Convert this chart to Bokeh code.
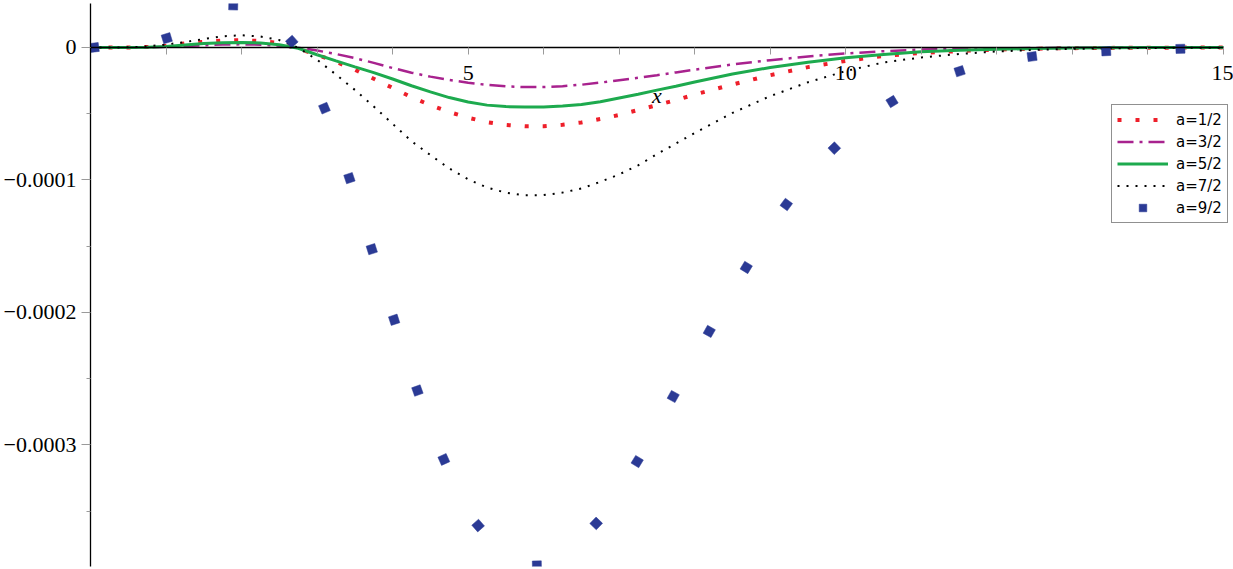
import math
from bokeh.plotting import figure
from bokeh.models import Range1d, FixedTicker, Legend, LegendItem
from bokeh.embed import file_html
from bokeh.resources import INLINE

# ---------------- data ----------------
x_grid = [0, 0.25, 0.5, 0.75, 1.0, 1.25, 1.5, 1.75, 2.0, 2.25, 2.5, 2.75, 3.0,
          3.25, 3.5, 3.75, 4.0, 4.25, 4.5, 4.75, 5.0, 5.25, 5.5, 5.75, 6.0,
          6.25, 6.5, 6.75, 7.0, 7.25, 7.5, 7.75, 8.0, 8.5, 9.0, 9.5, 10.0,
          10.5, 11.0, 11.5, 12.0, 12.5, 13.0, 13.5, 14.0, 14.5, 15.0]

y_a1 = [0, 0, 0, 0.004e-4, 0.012e-4, 0.030e-4, 0.043e-4, 0.052e-4, 0.055e-4,
        0.049e-4, 0.033e-4, -0.010e-4, -0.055e-4, -0.108e-4, -0.168e-4, -0.236e-4,
        -0.305e-4, -0.375e-4, -0.435e-4, -0.487e-4, -0.530e-4, -0.564e-4, -0.585e-4,
        -0.595e-4, -0.594e-4, -0.583e-4, -0.566e-4, -0.540e-4, -0.509e-4, -0.472e-4,
        -0.435e-4, -0.397e-4, -0.355e-4, -0.279e-4, -0.209e-4, -0.148e-4, -0.101e-4,
        -0.064e-4, -0.041e-4, -0.027e-4, -0.016e-4, -0.009e-4, -0.005e-4, -0.003e-4,
        -0.002e-4, -0.001e-4, -0.001e-4]

y_a3 = [0, 0, 0, 0.001e-4, 0.005e-4, 0.011e-4, 0.017e-4, 0.022e-4, 0.024e-4,
        0.021e-4, 0.013e-4, -0.002e-4, -0.023e-4, -0.049e-4, -0.080e-4, -0.116e-4,
        -0.155e-4, -0.190e-4, -0.220e-4, -0.245e-4, -0.266e-4, -0.282e-4, -0.293e-4,
        -0.299e-4, -0.299e-4, -0.292e-4, -0.281e-4, -0.265e-4, -0.247e-4, -0.229e-4,
        -0.209e-4, -0.188e-4, -0.167e-4, -0.128e-4, -0.096e-4, -0.068e-4, -0.045e-4,
        -0.028e-4, -0.016e-4, -0.010e-4, -0.006e-4, -0.004e-4, -0.002e-4, -0.001e-4,
        -0.001e-4, 0, 0]

y_a5 = [0, 0, 0, 0.002e-4, 0.008e-4, 0.019e-4, 0.030e-4, 0.036e-4, 0.038e-4,
        0.034e-4, 0.021e-4, -0.006e-4, -0.055e-4, -0.101e-4, -0.146e-4, -0.190e-4,
        -0.238e-4, -0.289e-4, -0.335e-4, -0.378e-4, -0.411e-4, -0.435e-4, -0.446e-4,
        -0.450e-4, -0.449e-4, -0.441e-4, -0.430e-4, -0.409e-4, -0.381e-4, -0.353e-4,
        -0.322e-4, -0.292e-4, -0.260e-4, -0.200e-4, -0.151e-4, -0.112e-4, -0.077e-4,
        -0.053e-4, -0.033e-4, -0.021e-4, -0.013e-4, -0.008e-4, -0.004e-4, -0.002e-4,
        -0.001e-4, -0.001e-4, 0]

y_a7 = [0, 0, 0.001e-4, 0.008e-4, 0.022e-4, 0.041e-4, 0.064e-4, 0.084e-4, 0.093e-4,
        0.083e-4, 0.056e-4, -0.002e-4, -0.093e-4, -0.204e-4, -0.320e-4, -0.445e-4,
        -0.576e-4, -0.707e-4, -0.812e-4, -0.913e-4, -0.995e-4, -1.057e-4, -1.096e-4,
        -1.116e-4, -1.114e-4, -1.095e-4, -1.064e-4, -1.014e-4, -0.958e-4, -0.889e-4,
        -0.805e-4, -0.725e-4, -0.645e-4, -0.494e-4, -0.367e-4, -0.262e-4, -0.178e-4,
        -0.113e-4, -0.075e-4, -0.049e-4, -0.030e-4, -0.018e-4, -0.010e-4, -0.006e-4,
        -0.004e-4, -0.002e-4, -0.001e-4]

# a=9/2 is drawn as widely spaced squares along its curve
x_a9 = [0.05, 1.01, 1.89, 2.665, 3.097, 3.428, 3.724, 4.020, 4.328, 4.678, 5.132,
        5.910, 6.695, 7.238, 7.715, 8.192, 8.682, 9.212, 9.848, 10.612, 11.507,
        12.466, 13.447, 14.430]
y_a9 = [0.0, 0.070e-4, 0.317e-4, 0.045e-4, -0.458e-4, -0.986e-4, -1.522e-4,
        -2.055e-4, -2.589e-4, -3.109e-4, -3.608e-4, -3.909e-4, -3.592e-4, -3.125e-4,
        -2.634e-4, -2.143e-4, -1.660e-4, -1.185e-4, -0.760e-4, -0.408e-4, -0.179e-4,
        -0.068e-4, -0.028e-4, -0.010e-4]

series_labels = ["a=1/2", "a=3/2", "a=5/2", "a=7/2", "a=9/2"]

x_ticks = [5, 10, 15]
x_minor_ticks = [1, 2, 3, 4, 6, 7, 8, 9, 11, 12, 13, 14]
y_ticks = [0.0, -0.0001, -0.0002, -0.0003]
y_tick_labels = ["0", "\u22120.0001", "\u22120.0002", "\u22120.0003"]
y_minor_ticks = [-0.00005, -0.00015, -0.00025, -0.00035]

# ---------------- layout / style ----------------
W, H = 1233, 569
X0, X1 = 0.0, 15.133      # frame runs to the right edge; the axis stops at 15
AX_BOUNDS = (0, 15)
Y0, Y1 = -3.917e-4, 0.332e-4
ML, MR, MT, MB = 90, 0, 3, 3

RED = "#EE1F2A"
MAG = "#A8228E"
GREEN = "#1DAA4E"
NAVY = "#2B3A95"
SERIF = "Liberation Serif"

p = figure(width=W, height=H, x_range=Range1d(X0, X1), y_range=Range1d(Y0, Y1),
           output_backend="svg", toolbar_location=None,
           min_border_left=ML, min_border_right=MR, min_border_top=MT,
           min_border_bottom=MB)
p.outline_line_color = None
p.grid.visible = False
p.background_fill_color = "white"

# x axis drawn through y = 0
xa = p.xaxis[0]
xa.fixed_location = 0
xa.bounds = AX_BOUNDS
xa.ticker = FixedTicker(ticks=x_ticks, minor_ticks=x_minor_ticks)
xa.axis_line_color = "black"
xa.axis_line_width = 1.3
xa.major_tick_line_color = "#9a9a9a"
xa.minor_tick_line_color = "#9a9a9a"
xa.major_tick_in = 0
xa.major_tick_out = 7
xa.minor_tick_in = 0
xa.minor_tick_out = 7
xa.major_label_standoff = 12
xa.major_label_text_font = SERIF
xa.major_label_text_font_size = "22px"
xa.major_label_text_color = "black"
xa.axis_label = "x"
xa.axis_label_text_font = SERIF
xa.axis_label_text_font_style = "italic"
xa.axis_label_text_font_size = "22px"
xa.axis_label_text_color = "black"
xa.axis_label_standoff = -1

ya = p.yaxis[0]
ya.ticker = FixedTicker(ticks=y_ticks, minor_ticks=y_minor_ticks)
ya.major_label_overrides = {t: s for t, s in zip(y_ticks, y_tick_labels)}
ya.axis_line_color = "black"
ya.axis_line_width = 1.3
ya.major_tick_line_color = "#9a9a9a"
ya.minor_tick_line_color = "#9a9a9a"
ya.major_tick_in = 0
ya.major_tick_out = 9
ya.minor_tick_in = 0
ya.minor_tick_out = 4
ya.major_label_standoff = 5
ya.major_label_text_font = SERIF
ya.major_label_text_font_size = "22px"
ya.major_label_text_color = "black"

r1 = p.line(x_grid, y_a1, line_color=RED, line_width=4, line_dash="4 14",
            line_cap="butt")
r3 = p.line(x_grid, y_a3, line_color=MAG, line_width=2.5, line_dash="16 6 3 6")
r5 = p.line(x_grid, y_a5, line_color=GREEN, line_width=3)
r7 = p.line(x_grid, y_a7, line_color="black", line_width=2, line_dash="2 7")

# squares of a=9/2 turned along the curve's direction on screen
frame_w = W - ML - MR
frame_h = H - MT - MB
sx = frame_w / (X1 - X0)
sy = frame_h / (Y1 - Y0)
n9 = len(x_a9)
angles9 = []
for i in range(n9):
    j0, j1 = max(i - 1, 0), min(i + 1, n9 - 1)
    angles9.append(math.atan2((y_a9[j1] - y_a9[j0]) * sy, (x_a9[j1] - x_a9[j0]) * sx))
r9 = p.scatter(x_a9, y_a9, marker="square", size=9, angle=angles9,
               fill_color=NAVY, line_color=NAVY, line_width=0.5)

legend = Legend(items=[LegendItem(label=l, renderers=[r])
                       for l, r in zip(series_labels, [r1, r3, r5, r7, r9])],
                location=(1021, 343))
legend.border_line_color = "#222222"
legend.border_line_width = 1.3
legend.background_fill_color = "white"
legend.background_fill_alpha = 1
legend.padding = 5
legend.margin = 0
legend.spacing = 3
legend.label_height = 19
legend.glyph_height = 19
legend.glyph_width = 51
legend.label_standoff = 8
legend.label_text_font = "DejaVu Sans"
legend.label_text_font_size = "15px"
legend.label_text_color = "black"
p.add_layout(legend)

open("out.html", "w").write(file_html(p, INLINE))
